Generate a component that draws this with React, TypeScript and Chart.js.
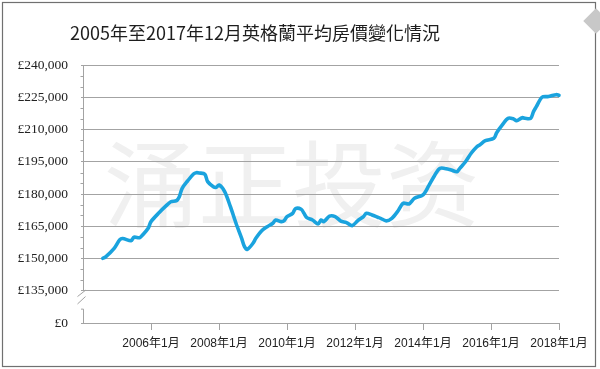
import React, { useEffect, useRef } from 'react';
import { Chart, registerables } from 'chart.js';

Chart.register(...registerables);

const TITLE = '2005年至2017年12月英格蘭平均房價變化情況';
const WATERMARK = '涌正投资';

const months = [
  '2004-08', '2004-09', '2004-12', '2005-02', '2005-03', '2005-06', '2005-07', '2005-09', '2005-10', '2005-12',
  '2006-01', '2006-04', '2006-06', '2006-08', '2006-10', '2006-11', '2006-12', '2007-02', '2007-04', '2007-05',
  '2007-06', '2007-08', '2007-09', '2007-11', '2007-12', '2008-01', '2008-03', '2008-05', '2008-07', '2008-09',
  '2008-10', '2008-11', '2009-01', '2009-02', '2009-04', '2009-06', '2009-08', '2009-09', '2009-11', '2009-12',
  '2010-01', '2010-03', '2010-04', '2010-06', '2010-07', '2010-08', '2010-10', '2010-12', '2011-01', '2011-02',
  '2011-04', '2011-06', '2011-08', '2011-10', '2011-12', '2012-02', '2012-04', '2012-05', '2012-07', '2012-09',
  '2012-10', '2012-12', '2013-02', '2013-04', '2013-06', '2013-08', '2013-10', '2014-01', '2014-03', '2014-05',
  '2014-07', '2014-10', '2014-11', '2015-01', '2015-02', '2015-04', '2015-06', '2015-08', '2015-09', '2015-11',
  '2016-02', '2016-03', '2016-05', '2016-07', '2016-09', '2016-10', '2016-12', '2017-01', '2017-03', '2017-04',
  '2017-05', '2017-07', '2017-09', '2017-10', '2017-12', '2018-01',
];

const prices = [
  150100, 150800, 154750, 158800, 159300, 158300, 159900, 159700, 160900, 164050,
  167150, 171500, 174100, 176400, 176900, 178750, 182650, 186200, 189300, 189900,
  189800, 189200, 185750, 183400, 183100, 184200, 181100, 174200, 166400, 159400,
  155500, 154300, 157100, 159400, 162800, 164800, 166400, 167900, 167150, 167600,
  169500, 171000, 173200, 172900, 171000, 169000, 167900, 166100, 167900, 167150,
  169700, 169500, 167400, 166700, 165300, 167600, 169500, 171000, 170250, 169200,
  168700, 167500, 168700, 171800, 175700, 175350, 178000, 179550, 183750, 188400,
  191950, 191500, 191150, 190400, 191950, 195000, 198950, 202000, 202800, 204800,
  205900, 208500, 212100, 215200, 214900, 214100, 215500, 215200, 215200, 218300,
  220600, 225000, 225300, 225600, 226200, 225900,
];

// x axis: months counted from 2004-01
const X_START = '2004-01';
const X_END = '2018-01';
const xTickMonths = ['2004-01', '2006-01', '2008-01', '2010-01', '2012-01', '2014-01', '2016-01', '2018-01'];

// y axis with a break: the bottom slot stands for £0
const BREAK_SLOT = 120000;
const yTickValues = [120000, 135000, 150000, 165000, 180000, 195000, 210000, 225000, 240000];

const toIdx = (s: string) => {
  const [y, m] = s.split('-').map(Number);
  const [y0, m0] = X_START.split('-').map(Number);
  return (y - y0) * 12 + (m - m0);
};

const monthLabel = (idx: number) => {
  const [y0] = X_START.split('-').map(Number);
  const y = y0 + Math.floor(idx / 12);
  const m = (idx % 12) + 1;
  return `${y}年${m}月`;
};

const fmtPound = (v: number) => (v === BREAK_SLOT ? '£0' : '£' + v.toLocaleString('en-US'));

const GRID = '#a3a3a3';

const decorPlugin = {
  id: 'decor',
  beforeDraw(chart: any) {
    const { ctx, width, height } = chart;
    ctx.save();
    ctx.fillStyle = '#ffffff';
    ctx.fillRect(0, 0, width, height);
    // watermark
    ctx.fillStyle = '#f0f0f0';
    ctx.font = '94px "Noto Sans CJK SC", serif';
    ctx.textBaseline = 'middle';
    ctx.textAlign = 'left';
    ctx.fillText(WATERMARK, 104, 184);
    ctx.restore();
  },
  afterDraw(chart: any) {
    const { ctx, chartArea, scales } = chart;
    const y = scales.y;
    const left = chartArea.left;
    ctx.save();
    ctx.strokeStyle = GRID;
    ctx.lineWidth = 1;
    const yTop = y.getPixelForValue(240000);
    const y135 = y.getPixelForValue(135000);
    const yBot = y.getPixelForValue(BREAK_SLOT);
    const gap = yBot - y135;
    // y axis line, upper part
    ctx.beginPath();
    ctx.moveTo(left + 0.5, yTop);
    ctx.lineTo(left + 0.5, y135);
    ctx.stroke();
    // lower part with stub
    ctx.beginPath();
    ctx.moveTo(left - 2, y135 + gap * 0.57);
    ctx.lineTo(left + 0.5, y135 + gap * 0.57);
    ctx.lineTo(left + 0.5, yBot);
    ctx.stroke();
    // break slashes
    ctx.beginPath();
    ctx.moveTo(left - 5.5, y135 + gap * 0.18);
    ctx.lineTo(left + 2.5, y135 - 0.5);
    ctx.moveTo(left - 5.5, y135 + gap * 0.41);
    ctx.lineTo(left + 2.5, y135 + gap * 0.18);
    ctx.stroke();
    // minor ticks
    ctx.beginPath();
    for (let v = 135000; v < 240000; v += 5000) {
      if (v % 15000 === 0) continue;
      const py = Math.round(y.getPixelForValue(v)) + 0.5;
      ctx.moveTo(left - 2.5, py);
      ctx.lineTo(left + 0.5, py);
    }
    ctx.stroke();
    // frame
    ctx.strokeStyle = '#707070';
    ctx.lineWidth = 1.2;
    ctx.strokeRect(2.5, 2.5, 593, 364);
    // corner mark
    ctx.fillStyle = '#c8c8c8';
    ctx.translate(596, 21);
    ctx.rotate(Math.PI / 4);
    ctx.fillRect(-9, -9, 18, 18);
    ctx.setTransform(1, 0, 0, 1, 0, 0);
    // title
    ctx.fillStyle = '#1e1e1e';
    ctx.font = '18px "Noto Sans CJK TC", sans-serif';
    ctx.textBaseline = 'middle';
    ctx.textAlign = 'left';
    ctx.fillText(TITLE, 70, 33);
    ctx.restore();
  },
};

export default function App() {
  const ref = useRef<HTMLCanvasElement | null>(null);

  useEffect(() => {
    if (!ref.current) return;
    const data = months.map((m, i) => ({ x: toIdx(m), y: prices[i] }));
    const chart = new Chart(ref.current, {
      type: 'line',
      data: {
        datasets: [
          {
            data,
            borderColor: '#1aa3de',
            borderWidth: 3.6,
            pointRadius: 0,
            tension: 0.3,
            fill: false,
            borderCapStyle: 'round',
            borderJoinStyle: 'round',
            clip: false as any,
          },
        ],
      },
      options: {
        animation: false,
        responsive: false,
        maintainAspectRatio: false,
        layout: { padding: { left: 0, right: 41, top: 65, bottom: 0 } },
        plugins: {
          legend: { display: false },
          tooltip: { enabled: false },
          title: { display: false },
        },
        scales: {
          x: {
            type: 'linear',
            min: toIdx(X_START),
            max: toIdx(X_END),
            afterBuildTicks: (s: any) => {
              s.ticks = xTickMonths.map((m) => ({ value: toIdx(m) }));
            },
            afterFit: (s: any) => {
              s.height = 46;
            },
            border: { display: false },
            grid: {
              drawOnChartArea: false,
              drawTicks: true,
              tickLength: 7,
              color: (c: any) => (c.tick && c.tick.value === 0 ? 'rgba(0,0,0,0)' : GRID),
              lineWidth: 1,
            },
            ticks: {
              autoSkip: false,
              maxRotation: 0,
              padding: 6,
              color: '#222',
              font: { family: '"Liberation Sans", "Noto Sans CJK SC", sans-serif', size: 12 },
              callback: (v: any) => (v === 0 ? '' : monthLabel(Number(v))),
            },
          },
          y: {
            type: 'linear',
            min: BREAK_SLOT,
            max: 240000,
            afterBuildTicks: (s: any) => {
              s.ticks = yTickValues.map((v) => ({ value: v }));
            },
            afterFit: (s: any) => {
              s.width = 83;
            },
            border: { display: false },
            grid: { color: GRID, lineWidth: 1, drawTicks: true, tickLength: 2 },
            ticks: {
              padding: 13,
              color: '#222',
              font: { family: '"Liberation Serif", serif', size: 13.5 },
              callback: (v: any) => fmtPound(Number(v)),
            },
          },
        },
      },
      plugins: [decorPlugin],
    } as any);
    return () => chart.destroy();
  }, []);

  return (
    <div style={{ position: 'fixed', left: 0, top: 0, width: 600, height: 369, background: '#fff' }}>
      <canvas ref={ref} width={600} height={369} style={{ display: 'block', width: 600, height: 369 }} />
    </div>
  );
}
